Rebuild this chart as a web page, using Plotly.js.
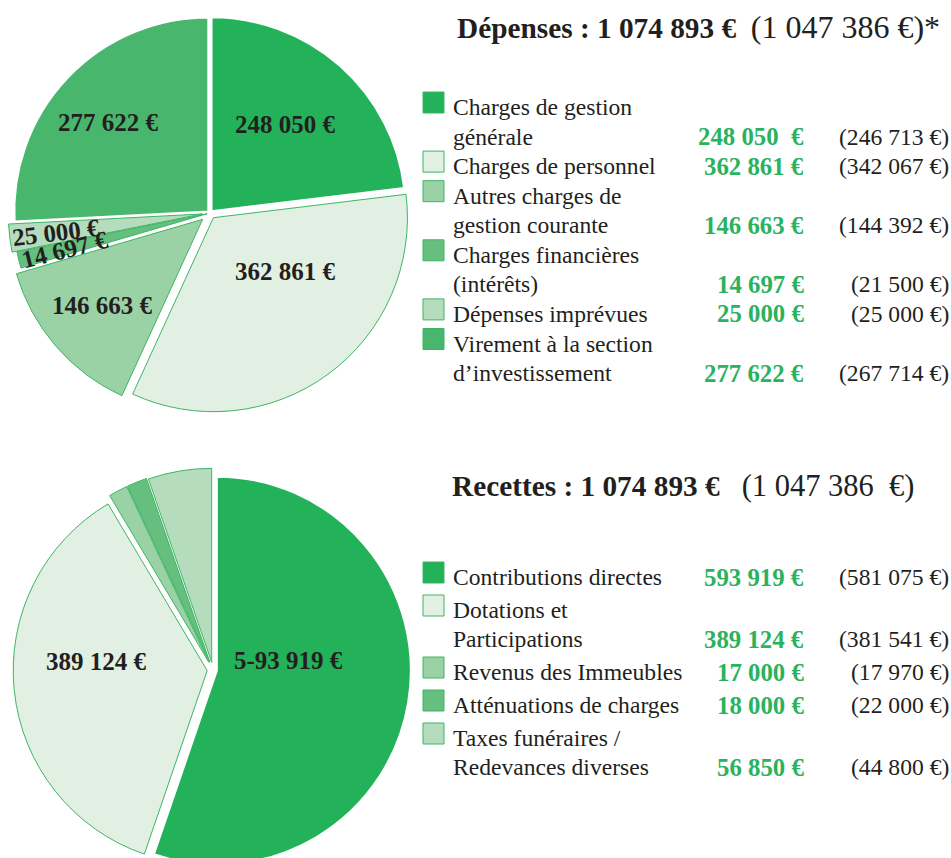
<!DOCTYPE html>
<html>
<head>
<meta charset="utf-8">
<script src="https://cdn.plot.ly/plotly-3.0.1.min.js"></script>
<style>
html,body{margin:0;padding:0;background:#fff;overflow:hidden;}
#chart{width:951px;height:880px;}
</style>
</head>
<body>
<div id="chart"></div>
<script>
// ---------- DATA ----------
const depCategories = [
  ['Charges de gestion', 'générale'],
  ['Charges de personnel'],
  ['Autres charges de', 'gestion courante'],
  ['Charges financières', '(intérêts)'],
  ['Dépenses imprévues'],
  ['Virement à la section', 'd’investissement']
];
const depValues = [248050, 362861, 146663, 14697, 25000, 277622];
const depPrevValues = [246713, 342067, 144392, 21500, 25000, 267714];
const depValueText = ['248 050\u00a0 €', '362 861 €', '146 663 €', '14 697 €', '25 000 €', '277 622 €'];
const depPrevText = ['(246 713 €)', '(342 067 €)', '(144 392 €)', '(21 500 €)', '(25 000 €)', '(267 714 €)'];
const depPieText = ['248 050 €', '362 861 €', '146 663 €', '14 697 €', '25 000 €', '277 622 €'];

const recCategories = [
  ['Contributions directes'],
  ['Dotations et', 'Participations'],
  ['Revenus des Immeubles'],
  ['Atténuations de charges'],
  ['Taxes funéraires /', 'Redevances diverses']
];
const recValues = [593919, 389124, 17000, 18000, 56850];
const recPrevValues = [581075, 381541, 17970, 22000, 44800];
const recValueText = ['593 919 €', '389 124 €', '17 000 €', '18 000 €', '56 850 €'];
const recPrevText = ['(581 075 €)', '(381 541 €)', '(17 970 €)', '(22 000 €)', '(44 800 €)'];
const recPieText = ['5-93 919 €', '389 124 €', '', '', ''];

const depTitleBold = 'Dépenses : 1 074 893 €';
const depTitleRest = '(1 047 386 €)*';
const recTitleBold = 'Recettes : 1 074 893 €';
const recTitleRest = '(1 047 386\u00a0 €)';

// ---------- STYLE ----------
const depColors = ['#23b15a', '#e2f0e3', '#9bd2a5', '#67bf7f', '#b5ddbd', '#48b76d'];
const recColors = ['#23b15a', '#e2f0e3', '#9bd2a5', '#67bf7f', '#b5ddbd'];
const outline = '#3db565';
const ink = '#231f20';
const greenText = '#2bb25d';
const FONT = 'Liberation Serif, Times New Roman, serif';

const W = 951, H = 880;
const px = x => x / W;
const py = y => 1 - y / H;

// pie geometry (pixels)
const depGeo = { cx: 210, cy: 213, r: 194 };
const recGeo = { cx: 213, cy: 670, r: 194 };
const depPull = [0.012, 0.03, 0.05, 0.015, 0.04, 0.012];
const recPull = [0.02, 0.03, 0.045, 0.045, 0.04];
// label placement: [angle offset from slice bisector (deg), radius fraction, text angle]
const depLabelPlace = [[-1.4, 0.60, 0], [-16, 0.49, 0], [0, 0.73, 0], [-0.5, 0.77, -14], [0, 0.80, -7], [-2, 0.70, 0]];
const recLabelPlace = [[-16.5, 0.39, 0], [10, 0.60, 0], [0, 0, 0], [0, 0, 0], [0, 0, 0]];

function domainFor(g, maxPull) {
  const h = g.r * (1 + maxPull);
  return { x: [px(g.cx - h), px(g.cx + h)], y: [py(g.cy + h), py(g.cy - h)] };
}

function pieTrace(values, cats, colors, pull, lineColors, lineWidths, geo) {
  return {
    type: 'pie',
    values: values,
    labels: cats.map(c => c.join(' ')),
    textinfo: 'none',
    sort: false,
    direction: 'clockwise',
    rotation: 0,
    pull: pull,
    marker: { colors: colors, line: { color: lineColors, width: lineWidths } },
    domain: domainFor(geo, Math.max(...pull)),
    hoverinfo: 'none',
    showlegend: false
  };
}

const depTrace = pieTrace(depValues, depCategories, depColors, depPull,
  ['#ffffff', outline, outline, outline, outline, '#ffffff'], [2, 1, 1, 1, 1, 2], depGeo);
const recTrace = pieTrace(recValues, recCategories, recColors, recPull,
  ['#ffffff', outline, outline, outline, outline], [2, 1, 1, 1, 1], recGeo);

// ---------- ANNOTATIONS ----------
const annotations = [];
const shapes = [];

function ann(text, x, y, xanchor, size, color, bold, angle) {
  annotations.push({
    text: bold ? '<b>' + text + '</b>' : text,
    x: px(x), y: py(y), xref: 'paper', yref: 'paper',
    xanchor: xanchor, yanchor: 'middle', showarrow: false,
    borderwidth: 0, borderpad: 0, textangle: angle || 0,
    font: { family: FONT, size: size, color: color }
  });
}

// slice labels, placed from the slice angles derived from the values
function pieLabels(values, texts, geo, place) {
  const total = values.reduce((a, b) => a + b, 0);
  let cum = 0;
  values.forEach((v, i) => {
    const bis = (cum + v / 2) / total * 360;
    cum += v;
    if (!texts[i]) return;
    const a = (bis + place[i][0]) * Math.PI / 180;
    const d = place[i][1] * geo.r;
    ann(texts[i], geo.cx + d * Math.sin(a), geo.cy - d * Math.cos(a), 'center', 25, ink, true, place[i][2]);
  });
}
pieLabels(depValues, depPieText, depGeo, depLabelPlace);
pieLabels(recValues, recPieText, recGeo, recLabelPlace);

function buildLegend(cats, colors, valTxt, prevTxt, startY, lineH, rowGap) {
  let y = startY;
  cats.forEach((lines, i) => {
    shapes.push({
      type: 'rect', xref: 'paper', yref: 'paper',
      x0: px(423), x1: px(444), y0: py(y - 15), y1: py(y + 6),
      fillcolor: colors[i], line: { color: outline, width: 1 }
    });
    lines.forEach((line, k) => {
      const ly = y + k * lineH;
      ann(line, 453, ly, 'left', 23.6, ink, false);
      if (k === lines.length - 1) {
        ann(valTxt[i], 804, ly, 'right', 24.8, greenText, true);
        ann(prevTxt[i], 949, ly, 'right', 23.6, ink, false);
      }
    });
    y += (lines.length - 1) * lineH + rowGap;
  });
}

buildLegend(depCategories, depColors, depValueText, depPrevText, 107, 29.5, 29.6);
buildLegend(recCategories, recColors, recValueText, recPrevText, 577, 29, 33);

// titles
annotations.push({
  text: '<b>' + depTitleBold + '</b>\u00a0 <span style="font-size:32px">' + depTitleRest + '</span>',
  x: px(457), y: py(27), xref: 'paper', yref: 'paper', xanchor: 'left', yanchor: 'middle',
  showarrow: false, borderwidth: 0, borderpad: 0,
  font: { family: FONT, size: 29.3, color: ink }
});
annotations.push({
  text: '<b>' + recTitleBold + '</b>\u00a0\u00a0 <span style="font-size:30.5px">' + recTitleRest + '</span>',
  x: px(452), y: py(486), xref: 'paper', yref: 'paper', xanchor: 'left', yanchor: 'middle',
  showarrow: false, borderwidth: 0, borderpad: 0,
  font: { family: FONT, size: 29.3, color: ink }
});

const layout = {
  width: W, height: H,
  margin: { l: 0, r: 0, t: 0, b: 0 },
  paper_bgcolor: '#ffffff',
  plot_bgcolor: '#ffffff',
  showlegend: false,
  annotations: annotations,
  shapes: shapes
};

Plotly.newPlot('chart', [depTrace, recTrace], layout, { staticPlot: true, displayModeBar: false });
</script>
</body>
</html>
